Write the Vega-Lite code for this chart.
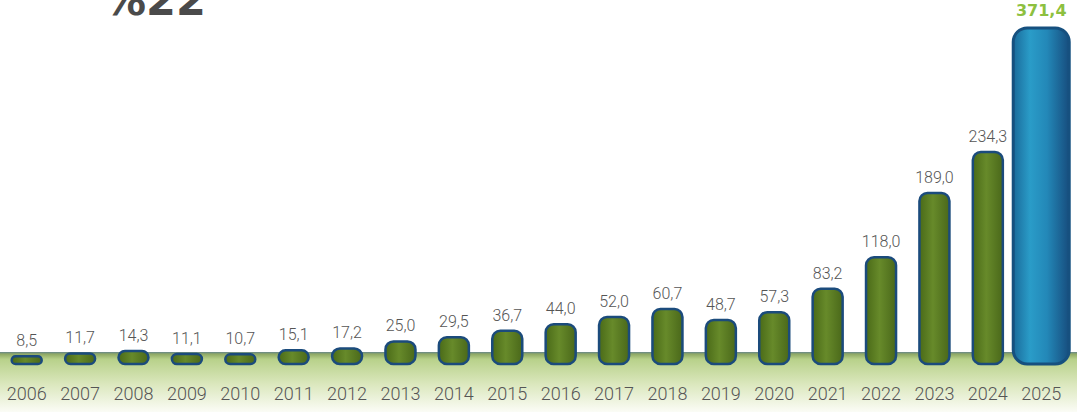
{
  "$schema": "https://vega.github.io/schema/vega-lite/v6.json",
  "width": 1077,
  "height": 412,
  "autosize": "none",
  "padding": 0,
  "background": "white",
  "config": {
    "view": {"stroke": null},
    "locale": {"number": {"decimal": ",", "thousands": ".", "grouping": [3], "currency": ["", ""]}}
  },
  "title": {
    "text": "%22",
    "anchor": "start",
    "frame": "group",
    "dx": 103,
    "dy": 58,
    "offset": 0,
    "baseline": "alphabetic",
    "fontSize": 43,
    "font": "DejaVu Sans",
    "fontWeight": "bold",
    "color": "#4a4a4a"
  },
  "data": {
    "values": [
      {"year": "2006", "value": 8.5},
      {"year": "2007", "value": 11.7},
      {"year": "2008", "value": 14.3},
      {"year": "2009", "value": 11.1},
      {"year": "2010", "value": 10.7},
      {"year": "2011", "value": 15.1},
      {"year": "2012", "value": 17.2},
      {"year": "2013", "value": 25.0},
      {"year": "2014", "value": 29.5},
      {"year": "2015", "value": 36.7},
      {"year": "2016", "value": 44.0},
      {"year": "2017", "value": 52.0},
      {"year": "2018", "value": 60.7},
      {"year": "2019", "value": 48.7},
      {"year": "2020", "value": 57.3},
      {"year": "2021", "value": 83.2},
      {"year": "2022", "value": 118.0},
      {"year": "2023", "value": 189.0},
      {"year": "2024", "value": 234.3},
      {"year": "2025", "value": 371.4}
    ]
  },
  "layer": [
    {
      "data": {"values": [{}]},
      "mark": {
        "type": "rect",
        "color": {
          "gradient": "linear", "x1": 0, "y1": 0, "x2": 0, "y2": 1,
          "stops": [
            {"offset": 0, "color": "#67868a"},
            {"offset": 0.035, "color": "#8fa965"},
            {"offset": 0.12, "color": "#b8d18a"},
            {"offset": 0.55, "color": "#dce8bf"},
            {"offset": 1, "color": "#fbfcf6"}
          ]
        }
      },
      "encoding": {
        "y": {"datum": 13.3, "type": "quantitative", "scale": {"domain": [-53, 402.2], "nice": false, "zero": false}, "axis": null},
        "y2": {"datum": -53}
      }
    },
    {
      "transform": [{"filter": "datum.year != '2025'"}],
      "mark": {
        "type": "bar",
        "size": 30,
        "cornerRadius": 8,
        "stroke": "#1b4b7c",
        "strokeWidth": 2.5,
        "color": {
          "gradient": "linear", "x1": 0, "y1": 0, "x2": 1, "y2": 0,
          "stops": [
            {"offset": 0, "color": "#4a6a18"},
            {"offset": 0.45, "color": "#678a2a"},
            {"offset": 1, "color": "#4a681a"}
          ]
        }
      },
      "encoding": {
        "x": {"field": "year", "type": "ordinal", "scale": {"paddingInner": 0, "paddingOuter": 0.085, "align": 0}, "axis": null},
        "y": {"field": "value", "type": "quantitative", "axis": null},
        "y2": {"datum": 0}
      }
    },
    {
      "transform": [{"filter": "datum.year == '2025'"}],
      "mark": {
        "type": "bar",
        "size": 56,
        "cornerRadius": 14,
        "stroke": "#16507f",
        "strokeWidth": 3,
        "color": {
          "gradient": "linear", "x1": 0, "y1": 0, "x2": 1, "y2": 0,
          "stops": [
            {"offset": 0, "color": "#1a6a9a"},
            {"offset": 0.3, "color": "#2a9cc8"},
            {"offset": 0.6, "color": "#2388b8"},
            {"offset": 1, "color": "#174d7e"}
          ]
        }
      },
      "encoding": {
        "x": {"field": "year", "type": "ordinal", "axis": null},
        "y": {"field": "value", "type": "quantitative", "axis": null},
        "y2": {"datum": 0}
      }
    },
    {
      "transform": [{"filter": "datum.year != '2025'"}],
      "mark": {"type": "text", "dy": -10, "baseline": "alphabetic", "font": "Roboto", "fontSize": 16, "fontWeight": 300, "color": "#555555"},
      "encoding": {
        "x": {"field": "year", "type": "ordinal", "axis": null},
        "y": {"field": "value", "type": "quantitative", "axis": null},
        "text": {"field": "value", "type": "quantitative", "format": ".1f"}
      }
    },
    {
      "transform": [{"filter": "datum.year == '2025'"}],
      "mark": {"type": "text", "dy": -12, "baseline": "alphabetic", "font": "DejaVu Sans", "fontSize": 16, "fontWeight": "bold", "color": "#8dc03f"},
      "encoding": {
        "x": {"field": "year", "type": "ordinal", "axis": null},
        "y": {"field": "value", "type": "quantitative", "axis": null},
        "text": {"field": "value", "type": "quantitative", "format": ".1f"}
      }
    },
    {
      "mark": {"type": "text", "baseline": "middle", "font": "Roboto", "fontSize": 18, "fontWeight": 300, "color": "#555555"},
      "encoding": {
        "x": {"field": "year", "type": "ordinal", "axis": null},
        "y": {"datum": -34, "type": "quantitative"},
        "text": {"field": "year", "type": "nominal"}
      }
    }
  ]
}
